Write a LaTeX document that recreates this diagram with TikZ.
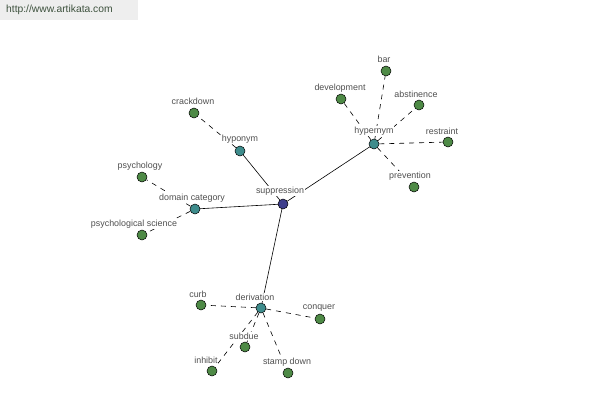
\documentclass[tikz,border=0pt]{standalone}
\usepackage{fontspec}
\setmainfont{Liberation Sans}
\usepackage{xcolor}
\usetikzlibrary{positioning,backgrounds}
\definecolor{rootnavy}{RGB}{62,62,140}
\definecolor{hubteal}{RGB}{62,140,140}
\definecolor{leafgreen}{RGB}{78,138,70}
\definecolor{labelgray}{RGB}{80,80,80}
\definecolor{bannergray}{RGB}{238,238,238}
\definecolor{bannertext}{RGB}{62,82,62}

\begin{document}
\begin{tikzpicture}[
 x=1bp, y=-1bp,
 dot/.style={circle, draw=black, line width=0.5pt, inner sep=0pt, minimum size=10bp},
 rootdot/.style={dot, fill=rootnavy},
 hub/.style={dot, fill=hubteal},
 leaf/.style={dot, fill=leafgreen},
 word/.style={fill=white, inner sep=0.5bp, text=labelgray, font=\fontsize{8.9bp}{9bp}\selectfont},
 link/.style={black, line width=0.6pt},
 weaklink/.style={black, line width=0.6pt, dash pattern=on 5bp off 5bp}
]
\useasboundingbox (0,0) rectangle (600,400);

% Banner
\fill[bannergray] (0,0) rectangle (138,20);
\node[anchor=west, text=bannertext, inner sep=0pt, font=\fontsize{10.3bp}{12bp}\selectfont] (site) at (6,10) {http://www.artikata.com};

% Words
\node[word] (w_supp) at (280,191) {suppression};
\node[word] (w_hypo) at (240,139) {hyponym};
\node[word] (w_crack) at (193,101) {crackdown};
\node[word] (w_dom) at (192,198) {domain category};
\node[word] (w_psy) at (140,166) {psychology};
\node[word] (w_psysci) at (134,224) {psychological science};
\node[word] (w_hyper) at (374,131) {hypernym};
\node[word] (w_bar) at (384,59) {bar};
\node[word] (w_dev) at (340,88) {development};
\node[word] (w_abst) at (416,94) {abstinence};
\node[word] (w_restr) at (442,131) {restraint};
\node[word] (w_prev) at (410,176) {prevention};
\node[word] (w_deriv) at (255,297) {derivation};
\node[word] (w_curb) at (198,294) {curb};
\node[word] (w_conq) at (319,308) {conquer};
\node[word] (w_subd) at (244,336) {subdue};
\node[word] (w_inhib) at (206,360) {inhibit};
\node[word] (w_stamp) at (287,362) {stamp down};

% Dots
\node[rootdot] (supp) at (283,204) {};
\node[hub] (hypo) at (240,151) {};
\node[hub] (dom) at (195,209) {};
\node[hub] (hyper) at (374,144) {};
\node[hub] (deriv) at (261,308) {};
\node[leaf] (crack) at (194,113) {};
\node[leaf] (psy) at (142,177) {};
\node[leaf] (psysci) at (142,235) {};
\node[leaf] (bar) at (386,71) {};
\node[leaf] (dev) at (341,99) {};
\node[leaf] (abst) at (419,105) {};
\node[leaf] (restr) at (448,142) {};
\node[leaf] (prev) at (414,187) {};
\node[leaf] (curb) at (201,305) {};
\node[leaf] (conq) at (320,319) {};
\node[leaf] (subd) at (245,347) {};
\node[leaf] (inhib) at (212,371) {};
\node[leaf] (stamp) at (288,373) {};

% Links
\begin{scope}[on background layer]
\foreach \n in {hypo,dom,hyper,deriv}
 \draw[link] (supp.center) -- (\n.center);
\draw[weaklink] (hypo) -- (crack);
\foreach \n in {psy,psysci}
 \draw[weaklink] (dom) -- (\n);
\foreach \n in {bar,dev,abst,restr,prev}
 \draw[weaklink] (hyper) -- (\n);
\foreach \n in {curb,conq,subd,inhib,stamp}
 \draw[weaklink] (deriv) -- (\n);
\end{scope}

\end{tikzpicture}
\end{document}
